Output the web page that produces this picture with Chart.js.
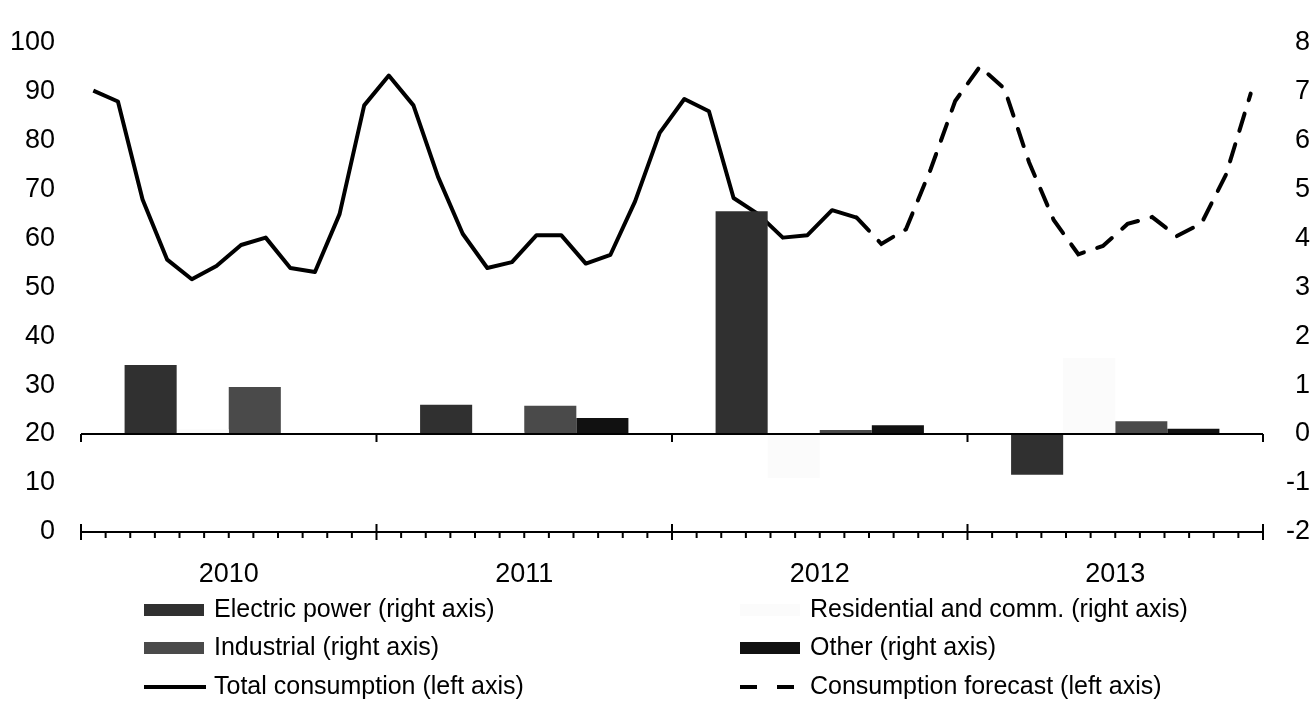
<!DOCTYPE html>
<html>
<head>
<meta charset="utf-8">
<script src="https://cdn.jsdelivr.net/npm/chart.js@4.4.1/dist/chart.umd.min.js"></script>
<style>
  html, body { margin: 0; padding: 0; background: #fff; }
  canvas { display: block; }
</style>
</head>
<body>
<canvas id="chart" width="1315" height="702"></canvas>
<script>
// annual change by sector (right axis)
const years = ['2010', '2011', '2012', '2013'];
const electricPower = [1.41, 0.60, 4.55, -0.83];
const residential = [0.10, 0.05, -0.90, 1.55];
const industrial = [0.96, 0.58, 0.08, 0.26];
const other = [0.02, 0.33, 0.18, 0.11];

// monthly consumption (left axis), Jan 2010 - Dec 2013
const totalConsumption = [
    90.1, 87.9, 67.9, 55.6, 51.6, 54.3, 58.6, 60.1, 53.9, 53.1, 64.9, 87.1,
    93.2, 87.1, 72.5, 60.9, 53.9, 55.1, 60.6, 60.6, 54.8, 56.6, 67.5, 81.5,
    88.4, 85.9, 68.2, 64.9, 60.1, 60.6, 65.7, 64.2, null, null, null, null,
    null, null, null, null, null, null, null, null, null, null, null, null
];
const consumptionForecast = [
    null, null, null, null, null, null, null, null, null, null, null, null,
    null, null, null, null, null, null, null, null, null, null, null, null,
    null, null, null, null, null, null, null, 64.2, 58.8, 61.8, 74.0, 88.0,
    95.0, 90.5, 75.5, 63.7, 56.7, 58.4, 62.9, 64.3, 60.4, 63.0, 73.0, 89.5
];

const leftTicks = [0, 10, 20, 30, 40, 50, 60, 70, 80, 90, 100];
const rightTicks = [-2, -1, 0, 1, 2, 3, 4, 5, 6, 7, 8];

const FONT = "'Liberation Sans', Arial, sans-serif";
const MONTHS = totalConsumption.length;

// x runs in month units (month i centred on i), bars sit at the middle of each year
const yearCenter = j => j * 12 + 5.5;
const toBars = values => values.map((v, j) => ({ x: yearCenter(j), y: v }));
const toMonthly = values => values.map((v, i) => ({ x: i, y: v }));

// zero line of the right axis and the bottom axis with month/year ticks
const axisLines = {
    id: 'axisLines',
    afterDatasetsDraw(chart) {
        const { ctx, chartArea } = chart;
        const x = chart.scales.x;
        const y0 = chart.scales.y2.getPixelForValue(0);
        const yb = chartArea.bottom;
        const xl = x.getPixelForValue(-0.5);
        const xr = x.getPixelForValue(MONTHS - 0.5);
        ctx.save();
        ctx.strokeStyle = '#000';
        ctx.lineWidth = 2;
        ctx.beginPath();
        ctx.moveTo(xl, y0);
        ctx.lineTo(xr, y0);
        ctx.moveTo(xl, yb);
        ctx.lineTo(xr, yb);
        for (let i = 0; i <= MONTHS; i++) {
            const px = x.getPixelForValue(i - 0.5);
            if (i % 12 === 0) {
                ctx.moveTo(px, y0);
                ctx.lineTo(px, y0 + 8);
                ctx.moveTo(px, yb - 8);
                ctx.lineTo(px, yb + 8);
            } else {
                ctx.moveTo(px, yb);
                ctx.lineTo(px, yb + 6);
            }
        }
        ctx.stroke();
        ctx.restore();
    }
};

// two-column legend under the axis
const sideLegend = {
    id: 'sideLegend',
    afterDraw(chart) {
        const { ctx } = chart;
        const colX = [144, 740];
        const rowY = [610, 648, 687];
        ctx.save();
        ctx.font = '25px ' + FONT;
        ctx.textBaseline = 'middle';
        chart.data.datasets.forEach((ds, i) => {
            const x = colX[i % 2];
            const y = rowY[Math.floor(i / 2)];
            if (ds.type === 'line') {
                ctx.strokeStyle = ds.borderColor;
                ctx.lineWidth = 4;
                ctx.setLineDash(ds.borderDash ? [17, 20] : []);
                ctx.beginPath();
                ctx.moveTo(x, y);
                ctx.lineTo(x + 62, y);
                ctx.stroke();
                ctx.setLineDash([]);
            } else {
                ctx.fillStyle = ds.backgroundColor;
                ctx.fillRect(x, y - 6, 60, 12);
            }
            ctx.fillStyle = '#000';
            ctx.fillText(ds.label, x + 70, y);
        });
        ctx.restore();
    }
};

const barCommon = {
    type: 'bar',
    xAxisID: 'x',
    yAxisID: 'y2',
    barPercentage: 1,
    categoryPercentage: 0.705,
    borderWidth: 0
};

const config = {
    type: 'bar',
    data: {
        datasets: [
            { ...barCommon, label: 'Electric power (right axis)', data: toBars(electricPower), backgroundColor: '#303030' },
            { ...barCommon, label: 'Residential and comm. (right axis)', data: toBars(residential), backgroundColor: '#fbfbfb' },
            { ...barCommon, label: 'Industrial (right axis)', data: toBars(industrial), backgroundColor: '#4a4a4a' },
            { ...barCommon, label: 'Other (right axis)', data: toBars(other), backgroundColor: '#111111' },
            {
                type: 'line', label: 'Total consumption (left axis)', data: toMonthly(totalConsumption),
                xAxisID: 'x', yAxisID: 'y', borderColor: '#000', borderWidth: 4,
                pointRadius: 0, tension: 0, spanGaps: false, borderJoinStyle: 'round'
            },
            {
                type: 'line', label: 'Consumption forecast (left axis)', data: toMonthly(consumptionForecast),
                xAxisID: 'x', yAxisID: 'y', borderColor: '#000', borderWidth: 4,
                borderDash: [18, 14], borderCapStyle: 'round',
                pointRadius: 0, tension: 0, spanGaps: false
            }
        ]
    },
    options: {
        responsive: false,
        animation: false,
        layout: { padding: { top: 30, right: 5, left: 0, bottom: 0 } },
        plugins: {
            legend: { display: false },
            tooltip: { enabled: false }
        },
        scales: {
            x: {
                type: 'linear',
                position: 'bottom',
                min: -0.5,
                max: MONTHS - 0.5,
                offset: false,
                afterBuildTicks: s => { s.ticks = years.map((y, j) => ({ value: yearCenter(j) })); },
                grid: { display: false, drawTicks: false },
                border: { display: false },
                ticks: {
                    color: '#000',
                    font: { family: FONT, size: 27 },
                    padding: 26,
                    maxRotation: 0,
                    autoSkip: false,
                    callback: (value, index) => years[index]
                },
                afterFit: s => { s.height = 170; }
            },
            y: {
                position: 'left',
                min: 0,
                max: 100,
                afterBuildTicks: s => { s.ticks = leftTicks.map(v => ({ value: v })); },
                grid: { display: false, drawTicks: false },
                border: { display: false },
                ticks: { color: '#000', font: { family: FONT, size: 27 }, padding: 26 },
                afterFit: s => { s.width = 81; }
            },
            y2: {
                position: 'right',
                min: -2,
                max: 8,
                afterBuildTicks: s => { s.ticks = rightTicks.map(v => ({ value: v })); },
                grid: { display: false, drawTicks: false },
                border: { display: false },
                ticks: { color: '#000', font: { family: FONT, size: 27 }, crossAlign: 'far', padding: 0 },
                afterFit: s => { s.width = 47; }
            }
        }
    },
    plugins: [axisLines, sideLegend]
};

const ctx = document.getElementById('chart').getContext('2d');
const chart = new Chart(ctx, config);
</script>
</body>
</html>
